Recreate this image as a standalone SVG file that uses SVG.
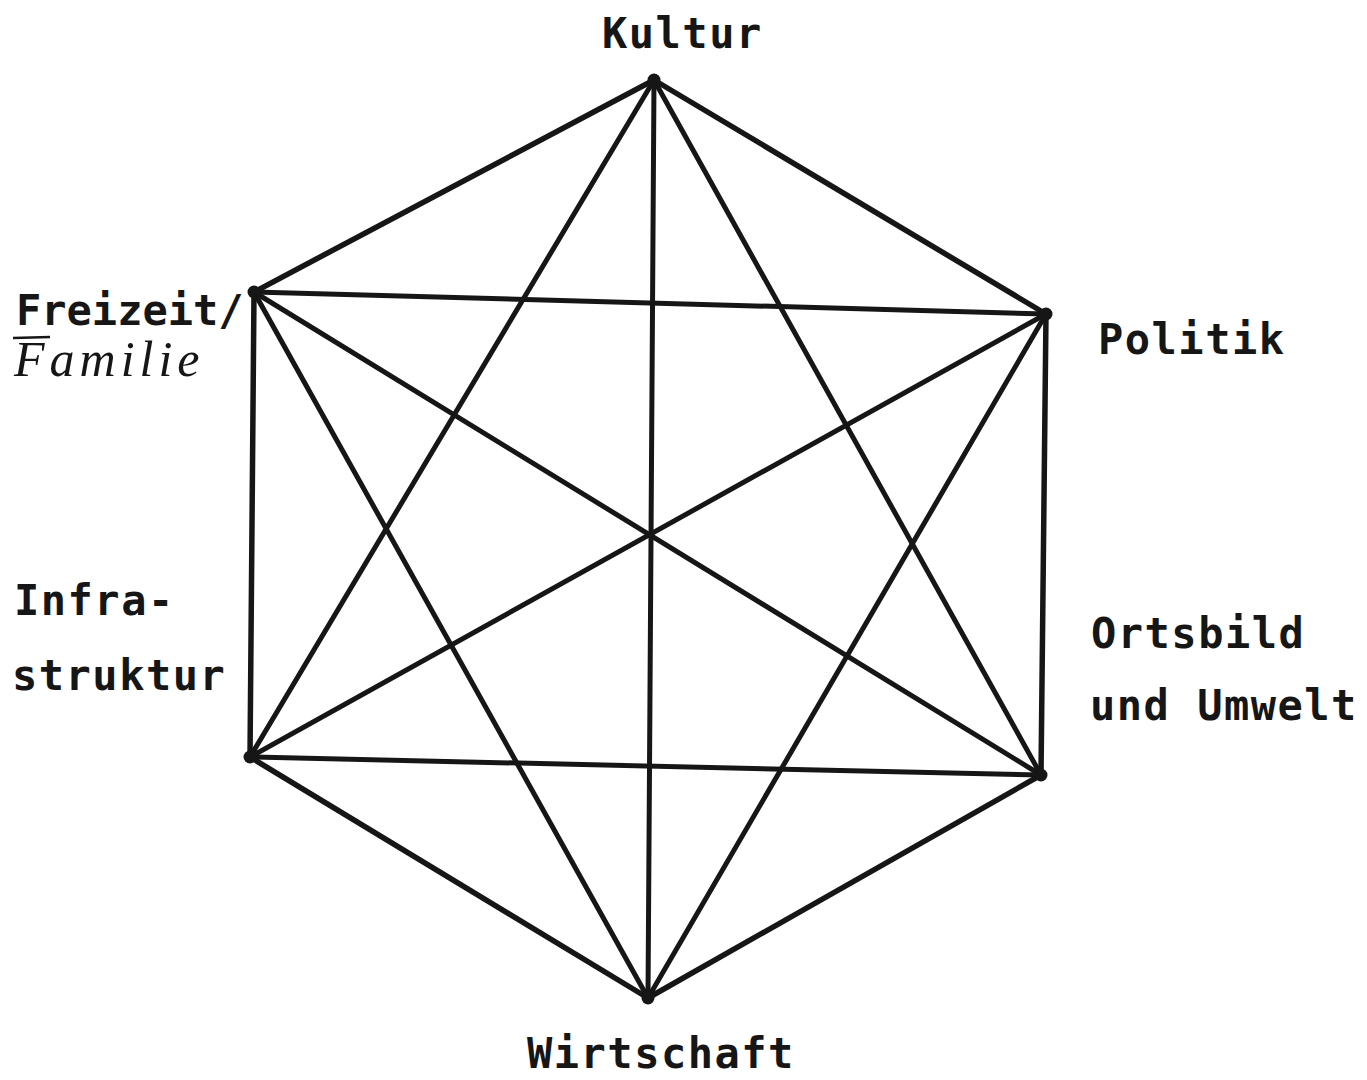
<svg xmlns="http://www.w3.org/2000/svg" width="1367" height="1080" viewBox="0 0 1367 1080">
<style>
.e{stroke:#161616;stroke-width:5.5;stroke-linecap:round;fill:none}
.d{stroke:#161616;stroke-width:5;stroke-linecap:round;fill:none}
.t{font-family:"DejaVu Sans Mono","Liberation Mono",monospace;font-weight:bold;font-size:42px;letter-spacing:1.5px;fill:#161616}
.h{font-family:"Liberation Serif",serif;font-style:italic;font-size:50px;letter-spacing:5px;fill:#161616}
.dot{fill:#161616}
</style>
<rect width="1367" height="1080" fill="#fff"/>
<g id="connectors">
<line class="e" x1="654" y1="80" x2="1046" y2="314"/>
<line class="e" x1="1046" y1="314" x2="1041" y2="775"/>
<line class="e" x1="1041" y1="775" x2="648" y2="998"/>
<line class="e" x1="648" y1="998" x2="250" y2="757"/>
<line class="e" x1="250" y1="757" x2="254" y2="292"/>
<line class="e" x1="254" y1="292" x2="654" y2="80"/>
<line class="d" x1="654" y1="80" x2="1041" y2="775"/>
<line class="d" x1="1041" y1="775" x2="250" y2="757"/>
<line class="d" x1="250" y1="757" x2="654" y2="80"/>
<line class="d" x1="254" y1="292" x2="1046" y2="314"/>
<line class="d" x1="1046" y1="314" x2="648" y2="998"/>
<line class="d" x1="648" y1="998" x2="254" y2="292"/>
<line class="d" x1="654" y1="80" x2="648" y2="998"/>
<line class="d" x1="254" y1="292" x2="1041" y2="775"/>
<line class="d" x1="1046" y1="314" x2="250" y2="757"/>
</g>
<g id="kultur"><circle class="dot" cx="654" cy="80" r="6.5"/><text class="t" x="602" y="48">Kultur</text></g>
<g id="politik"><circle class="dot" cx="1046" cy="314" r="6.5"/><text class="t" x="1098" y="354">Politik</text></g>
<g id="ortsbild"><circle class="dot" cx="1041" cy="775" r="6.5"/><text class="t" x="1091" y="648">Ortsbild</text><text class="t" x="1090" y="720">und Umwelt</text></g>
<g id="wirtschaft"><circle class="dot" cx="648" cy="998" r="6.5"/><text class="t" x="527" y="1068">Wirtschaft</text></g>
<g id="infrastruktur"><circle class="dot" cx="250" cy="757" r="6.5"/><text class="t" x="14" y="615">Infra-</text><text class="t" x="12" y="690">struktur</text></g>
<g id="freizeit"><circle class="dot" cx="254" cy="292" r="6.5"/><text class="t" x="16" y="325" style="letter-spacing:0">Freizeit/</text><line x1="13" y1="338" x2="50" y2="337" stroke="#161616" stroke-width="2.5"/><text class="h" x="14" y="376">Familie</text></g>
</svg>
